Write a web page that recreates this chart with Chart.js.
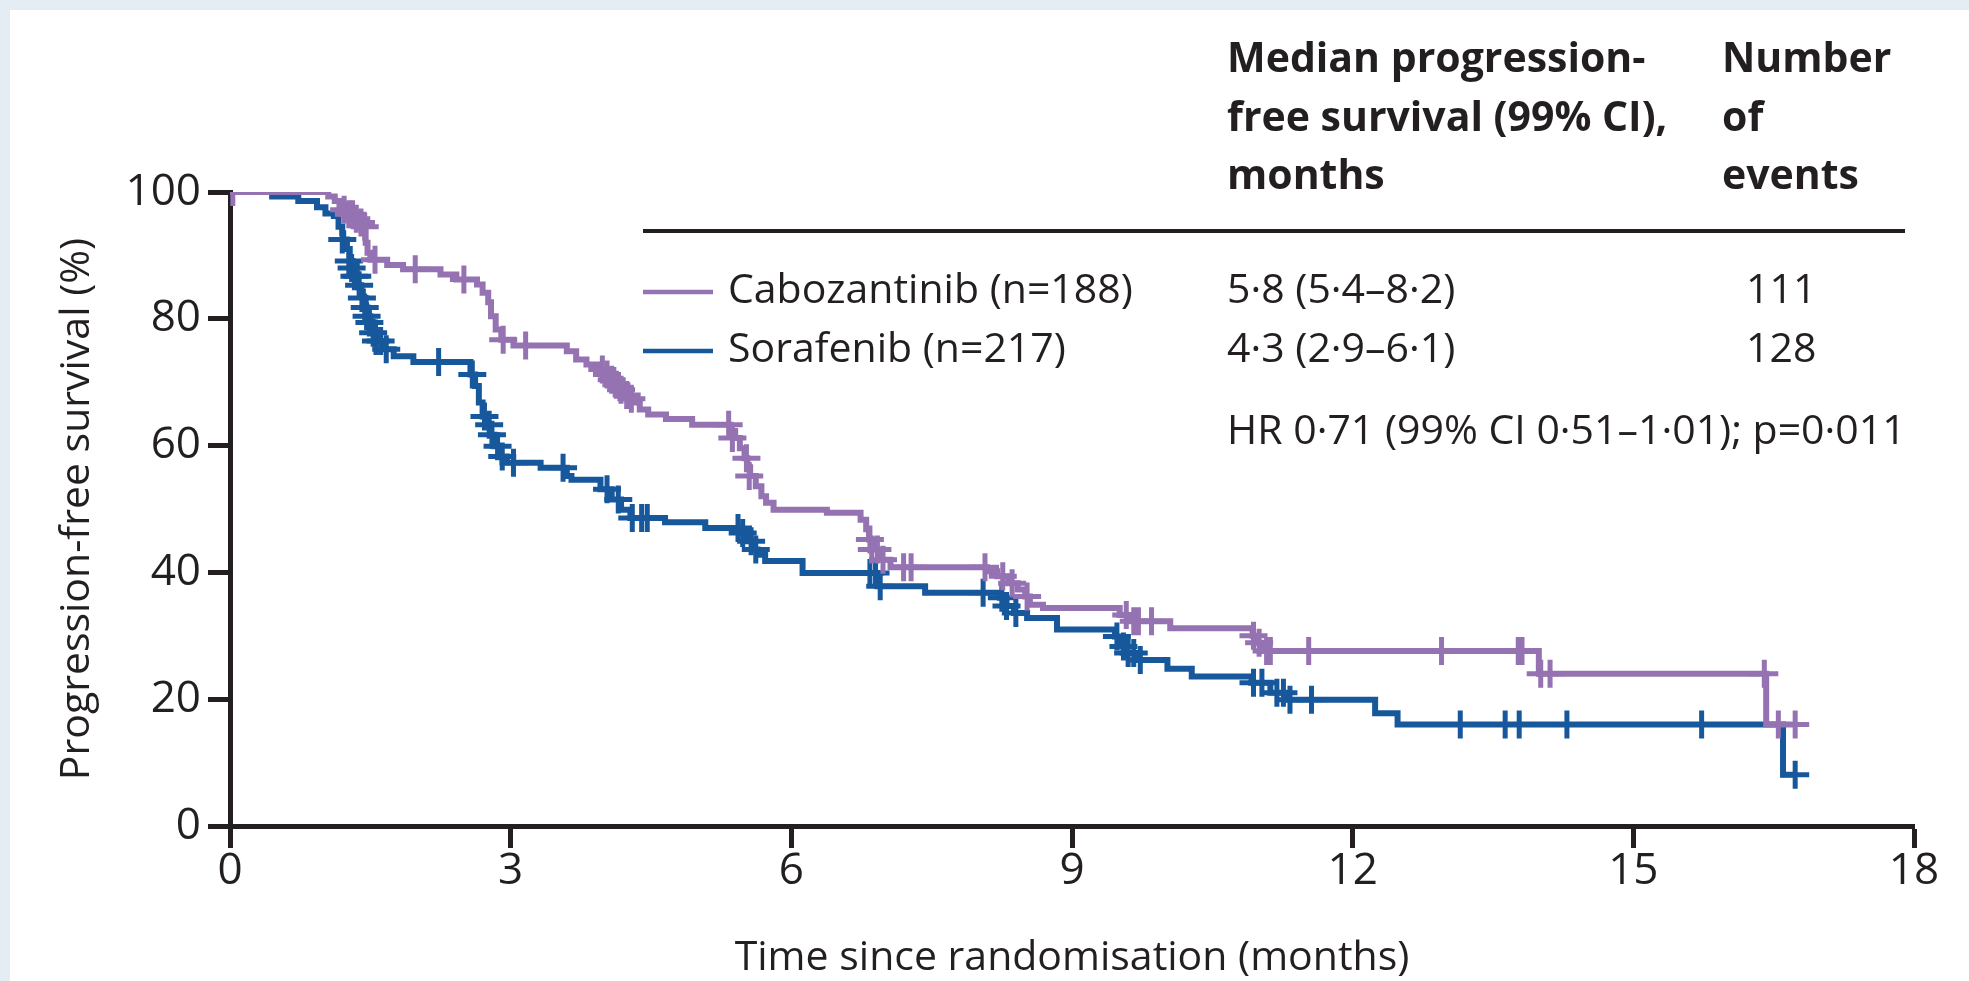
<!DOCTYPE html>
<html>
<head>
<meta charset="utf-8">
<script src="https://cdn.jsdelivr.net/npm/chart.js@4.4.1/dist/chart.umd.min.js"></script>
<style>
  html, body { margin: 0; padding: 0; background: #ffffff; }
  canvas { display: block; }
</style>
</head>
<body>
<canvas id="km" width="1969" height="981"></canvas>
<script>
// Axis ticks
const monthTicks = [0, 3, 6, 9, 12, 15, 18];
const survivalTicks = [0, 20, 40, 60, 80, 100];

// Cabozantinib: Kaplan-Meier steps (time in months, survival % after the step)
const caboTimes = [0, 1.05, 1.12, 1.17, 1.22, 1.27, 1.33, 1.38, 1.42, 1.45, 1.47, 1.50, 1.68, 1.85, 2.25, 2.42, 2.64, 2.70, 2.76, 2.79, 2.84, 2.90, 3.03, 3.60, 3.70, 3.81, 3.96, 4.01, 4.06, 4.11, 4.16, 4.21, 4.27, 4.31, 4.38, 4.47, 4.66, 4.94, 5.35, 5.40, 5.45, 5.50, 5.53, 5.56, 5.62, 5.68, 5.73, 5.81, 6.38, 6.74, 6.80, 6.83, 6.88, 6.95, 7.06, 8.09, 8.20, 8.32, 8.42, 8.50, 8.55, 8.69, 9.51, 9.62, 10.05, 10.93, 10.98, 11.05, 13.99, 16.42, 16.73];
const caboSurv = [100, 99.3, 98.6, 97.9, 97.2, 96.5, 95.8, 95.2, 94.5, 92.0, 90.4, 89.3, 88.5, 87.8, 87.0, 86.2, 85.4, 84.1, 82.6, 80.4, 78.3, 76.7, 75.8, 74.9, 73.6, 72.8, 72.0, 71.2, 70.4, 69.6, 68.8, 68.0, 67.4, 66.8, 65.7, 64.9, 64.2, 63.3, 62.3, 61.2, 59.6, 58.0, 56.6, 55.2, 53.6, 52.0, 51.0, 49.9, 49.4, 48.3, 46.8, 45.2, 43.6, 42.0, 40.8, 40.2, 39.4, 38.3, 37.3, 36.2, 34.9, 34.4, 33.3, 32.3, 31.2, 30.0, 28.9, 27.6, 24.0, 16.0, 16.0];
// Cabozantinib: censored observations
const caboCensorTimes = [0.03, 1.22, 1.27, 1.31, 1.35, 1.40, 1.44, 1.55, 1.98, 2.50, 2.92, 3.16, 3.98, 4.03, 4.08, 4.13, 4.18, 4.24, 4.29, 5.33, 5.37, 5.52, 5.55, 6.84, 6.86, 6.92, 6.98, 7.20, 7.28, 8.07, 8.26, 8.36, 8.52, 9.58, 9.66, 9.71, 9.85, 10.94, 11.00, 11.08, 11.12, 11.53, 12.95, 13.77, 13.81, 14.01, 14.11, 16.40, 16.55, 16.73];
const caboCensorSurv = [100, 97.2, 96.5, 96.5, 95.8, 95.2, 94.5, 89.3, 87.8, 86.2, 76.7, 75.8, 72.0, 71.2, 70.4, 69.6, 68.8, 68.0, 67.4, 63.3, 61.2, 58.0, 55.2, 45.2, 43.6, 43.6, 42.0, 40.8, 40.8, 40.8, 39.4, 38.3, 36.2, 33.3, 32.3, 32.3, 32.3, 30.0, 28.9, 27.6, 27.6, 27.6, 27.6, 27.6, 27.6, 24.0, 24.0, 24.0, 16.0, 16.0];

// Sorafenib: Kaplan-Meier steps
const soraTimes = [0, 0.45, 0.73, 0.93, 1.02, 1.11, 1.16, 1.20, 1.21, 1.25, 1.28, 1.31, 1.34, 1.37, 1.40, 1.42, 1.45, 1.47, 1.50, 1.55, 1.58, 1.65, 1.75, 1.96, 2.57, 2.62, 2.66, 2.70, 2.75, 2.79, 2.83, 2.88, 2.96, 3.32, 3.60, 3.65, 3.96, 4.08, 4.18, 4.28, 4.65, 5.08, 5.45, 5.52, 5.58, 5.64, 5.72, 6.12, 6.92, 7.43, 8.23, 8.30, 8.38, 8.52, 8.84, 9.46, 9.52, 9.58, 9.68, 10.02, 10.28, 10.92, 11.12, 11.30, 12.24, 12.48, 16.60, 16.73];
const soraSurv = [100, 99.3, 98.6, 97.6, 96.6, 96.2, 94.5, 93.5, 92.5, 91.0, 89.1, 88.0, 86.7, 85.3, 84.3, 83.3, 81.8, 80.4, 79.4, 77.8, 76.5, 75.2, 74.1, 73.2, 71.2, 69.4, 66.8, 64.6, 63.3, 61.7, 59.9, 58.3, 57.3, 56.5, 55.2, 54.6, 53.1, 51.5, 49.9, 48.6, 47.9, 47.0, 46.2, 44.9, 43.6, 42.8, 41.8, 39.9, 37.8, 36.8, 36.0, 34.7, 33.6, 32.8, 31.0, 29.9, 28.3, 27.3, 26.2, 24.8, 23.6, 22.6, 21.0, 19.9, 17.8, 16.0, 8.1, 8.1];
// Sorafenib: censored observations
const soraCensorTimes = [1.20, 1.27, 1.30, 1.33, 1.36, 1.38, 1.41, 1.44, 1.46, 1.49, 1.53, 1.56, 1.61, 1.67, 2.23, 2.59, 2.72, 2.77, 2.80, 2.86, 2.91, 3.03, 3.56, 4.03, 4.15, 4.30, 4.40, 4.46, 5.43, 5.48, 5.57, 5.62, 6.84, 6.90, 6.95, 8.05, 8.25, 8.30, 8.40, 9.48, 9.55, 9.60, 9.66, 9.73, 10.94, 11.03, 11.19, 11.26, 11.33, 11.56, 13.15, 13.63, 13.78, 14.29, 15.73, 16.73];
const soraCensorSurv = [92.5, 89.1, 88.0, 86.7, 86.7, 85.3, 83.3, 81.8, 80.4, 79.4, 77.8, 76.5, 76.5, 75.2, 73.2, 71.2, 64.6, 63.3, 61.7, 59.9, 58.3, 57.3, 56.5, 53.1, 51.5, 48.6, 48.6, 48.6, 47.0, 46.2, 44.9, 43.6, 39.9, 39.9, 37.8, 36.8, 36.0, 34.7, 33.6, 29.9, 28.3, 27.3, 27.3, 26.2, 22.6, 22.6, 21.0, 21.0, 19.9, 19.9, 16.0, 16.0, 16.0, 16.0, 16.0, 8.1];

// Summary table beside the curves
const armLabels = ['Cabozantinib (n=188)', 'Sorafenib (n=217)'];
const medianHeader = ['Median progression-', 'free survival (99% CI),', 'months'];
const eventsHeader = ['Number', 'of', 'events'];
const armMedians = ['5·8 (5·4–8·2)', '4·3 (2·9–6·1)'];
const armEvents = ['111', '128'];
const hazardRatio = 'HR 0·71 (99% CI 0·51–1·01); p=0·011';

const xTitle = 'Time since randomisation (months)';
const yTitle = 'Progression-free survival (%)';

const PURPLE = '#9572b2';
const BLUE = '#17589c';
const INK = '#231f20';
const FONT = "'Open Sans', 'Noto Sans', sans-serif";

const toPoints = (xs, ys) => xs.map((x, i) => ({ x, y: ys[i] }));

const pageBackground = {
  id: 'pageBackground',
  beforeDraw(chart) {
    const { ctx, width, height } = chart;
    ctx.save();
    ctx.fillStyle = '#e4ecf4';
    ctx.fillRect(0, 0, width, height);
    ctx.fillStyle = '#ffffff';
    ctx.fillRect(10, 10, width - 10, height - 10);
    ctx.restore();
  }
};

const summaryTable = {
  id: 'summaryTable',
  afterDraw(chart) {
    const { ctx } = chart;
    ctx.save();
    ctx.fillStyle = INK;
    ctx.textBaseline = 'middle';
    ctx.textAlign = 'left';

    ctx.font = `bold 41px ${FONT}`;
    const headY = [60, 119, 177];
    medianHeader.forEach((t, i) => ctx.fillText(t, 1227, headY[i]));
    eventsHeader.forEach((t, i) => ctx.fillText(t, 1722, headY[i]));

    ctx.strokeStyle = INK;
    ctx.lineWidth = 4;
    ctx.beginPath();
    ctx.moveTo(643, 231);
    ctx.lineTo(1905, 231);
    ctx.stroke();

    ctx.font = `41px ${FONT}`;
    const rowY = [291, 350];
    const colors = [PURPLE, BLUE];
    rowY.forEach((y, i) => {
      ctx.strokeStyle = colors[i];
      ctx.lineWidth = 4.5;
      ctx.beginPath();
      ctx.moveTo(643, y + 1);
      ctx.lineTo(713, y + 1);
      ctx.stroke();
      ctx.fillStyle = INK;
      ctx.fillText(armLabels[i], 728, y);
      ctx.fillText(armMedians[i], 1227, y);
      ctx.fillText(armEvents[i], 1746, y);
    });
    ctx.fillText(hazardRatio, 1227, 432);
    ctx.restore();
  }
};

const curveStyle = (color) => ({
  borderColor: color,
  backgroundColor: color,
  borderWidth: 6,
  stepped: 'before',
  pointRadius: 0,
  fill: false,
  borderCapStyle: 'butt',
  borderJoinStyle: 'miter',
  showLine: true
});

const censorStyle = (color) => ({
  showLine: false,
  pointStyle: 'cross',
  pointRadius: 14,
  pointBorderWidth: 5,
  pointBorderColor: color,
  pointBackgroundColor: color
});

const axisCommon = {
  type: 'linear',
  grid: {
    display: true,
    drawOnChartArea: false,
    drawTicks: true,
    tickLength: 22,
    tickWidth: 5,
    tickColor: INK
  },
  border: { display: true, width: 5, color: INK }
};

new Chart(document.getElementById('km'), {
  type: 'scatter',
  data: {
    datasets: [
      { label: 'Cabozantinib censored', data: toPoints(caboCensorTimes, caboCensorSurv), ...censorStyle(PURPLE), order: 0 },
      { label: 'Cabozantinib', data: toPoints(caboTimes, caboSurv), ...curveStyle(PURPLE), order: 1 },
      { label: 'Sorafenib censored', data: toPoints(soraCensorTimes, soraCensorSurv), ...censorStyle(BLUE), order: 2 },
      { label: 'Sorafenib', data: toPoints(soraTimes, soraSurv), ...curveStyle(BLUE), order: 3 }
    ]
  },
  options: {
    responsive: false,
    animation: false,
    devicePixelRatio: 1,
    layout: { padding: { top: 192, right: 55, left: 0, bottom: 0 } },
    plugins: { legend: { display: false }, tooltip: { enabled: false } },
    events: [],
    scales: {
      x: {
        ...axisCommon,
        min: 0,
        max: 18,
        afterBuildTicks: (s) => { s.ticks = monthTicks.map(v => ({ value: v })); },
        afterFit: (s) => { s.height = 155; },
        ticks: { color: INK, font: { family: FONT, size: 44 }, padding: -3, maxRotation: 0 },
        title: { display: true, text: xTitle, color: INK, font: { family: FONT, size: 41, lineHeight: 1.2 }, padding: { top: 0, bottom: -2 } }
      },
      y: {
        ...axisCommon,
        min: 0,
        max: 100,
        afterBuildTicks: (s) => { s.ticks = survivalTicks.map(v => ({ value: v })); },
        afterFit: (s) => { s.width = 230; },
        ticks: { color: INK, font: { family: FONT, size: 44 }, padding: 7 },
        title: { display: true, text: yTitle, color: INK, font: { family: FONT, size: 41, lineHeight: 1.2 }, padding: { top: 53, bottom: 0 } }
      }
    }
  },
  plugins: [pageBackground, summaryTable]
});
</script>
</body>
</html>
